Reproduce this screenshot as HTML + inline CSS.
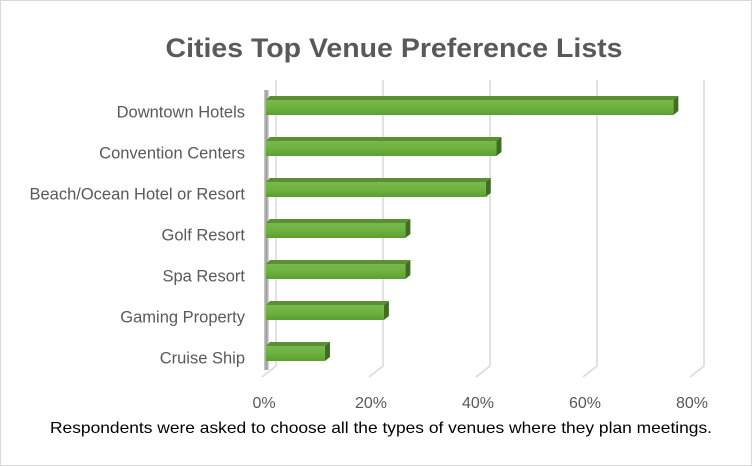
<!DOCTYPE html>
<html><head><meta charset="utf-8"><style>
body{margin:0;background:#fff}
svg{display:block;font-family:"Liberation Sans",sans-serif}
</style></head><body>
<svg width="752" height="466" viewBox="0 0 752 466">
<defs>
<linearGradient id="bf" x1="0" y1="0" x2="0" y2="1"><stop offset="0" stop-color="#7ab84c"/><stop offset="0.5" stop-color="#6db23f"/><stop offset="1" stop-color="#5c9e32"/></linearGradient>
<linearGradient id="wall" x1="0" y1="0" x2="1" y2="0"><stop offset="0" stop-color="#aaa"/><stop offset="0.5" stop-color="#555"/><stop offset="1" stop-color="#ccc"/></linearGradient>
</defs>
<rect x="0.5" y="0.5" width="751" height="465" fill="#fff" stroke="#d9d9d9"/>
<text x="394" y="57" text-anchor="middle" font-size="27" font-weight="bold" fill="#595959" textLength="457" lengthAdjust="spacingAndGlyphs">Cities Top Venue Preference Lists</text>
<g id="grid"></g>
<rect x="264" y="90" width="5" height="280" fill="url(#wall)" opacity="0.6"/>
<g id="bars"></g>
<g id="labels"></g>
<text x="381" y="433" text-anchor="middle" font-size="16" fill="#000" textLength="662" lengthAdjust="spacingAndGlyphs">Respondents were asked to choose all the types of venues where they plan meetings.</text>
</svg>
<script>
const categories=["Downtown Hotels","Convention Centers","Beach/Ocean Hotel or Resort","Golf Resort","Spa Resort","Gaming Property","Cruise Ship"];
const values=[76,43,41,26,26,22,11];
const ticks=[0,20,40,60,80];
const tickLabels=["0%","20%","40%","60%","80%"];
const NS="http://www.w3.org/2000/svg";
function mk(t,a,p){const e=document.createElementNS(NS,t);for(const k in a)e.setAttribute(k,a[k]);p.appendChild(e);return e;}
const x=v=>266+v*5.36;
const xb=v=>276+v*5.35;
const xf=v=>262+v*5.35;
const yc=i=>107.5+i*41;
const g=document.getElementById('grid');
ticks.forEach((t,i)=>{
  const l=mk('polyline',{points:`${xb(t)},80 ${xb(t)},366 ${xf(t)},377`,fill:'none',stroke:'#d9d9d9','stroke-width':1.5},g);
  
  
  const tx=mk('text',{x:xf(t)+2,y:408,'text-anchor':'middle','font-size':16,fill:'#595959'},g);
  tx.textContent=tickLabels[i];
  
  
});
const b=document.getElementById('bars'),lb=document.getElementById('labels');
values.forEach((v,i)=>{
  const y=yc(i)-7.5,x1=x(v);
  const gg=mk('g',{},b);
  
  
  mk('polygon',{points:`266,${y} 270,${y-4} ${x1+5},${y-4} ${x1},${y}`,fill:'#5a8f34'},gg);
  mk('polygon',{points:`${x1},${y} ${x1+5},${y-4} ${x1+5},${y+11} ${x1},${y+15}`,fill:'#3f6e23'},gg);
  mk('rect',{x:266,y:y,width:x1-266,height:15,fill:'url(#bf)'},gg);
  const t=mk('text',{x:245,y:yc(i)+10,'text-anchor':'end','font-size':16.5,fill:'#595959'},lb);
  t.textContent=categories[i];
  
  
});
</script>
</body></html>
